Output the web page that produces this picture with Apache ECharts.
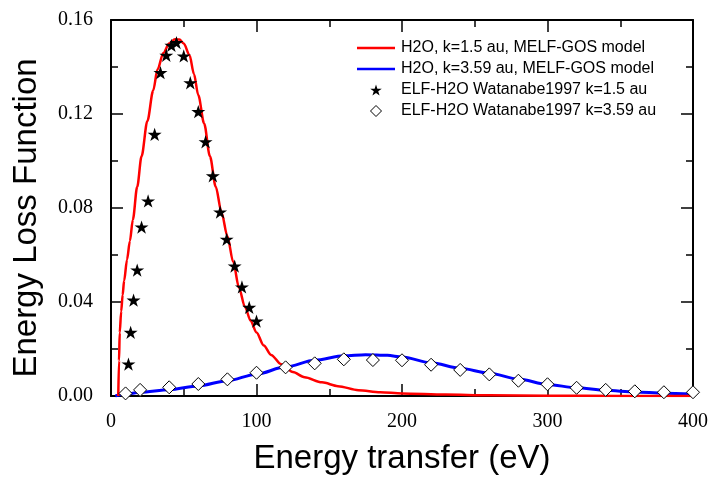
<!DOCTYPE html>
<html>
<head>
<meta charset="utf-8">
<script src="https://cdn.jsdelivr.net/npm/echarts@6/dist/echarts.min.js"></script>
<style>html,body{margin:0;padding:0;background:#fff}#c{width:713px;height:489px}</style>
</head>
<body>
<div id="c"></div>
<script>
// Model curve k=1.5 au (MELF-GOS)
var redE   = [5, 5.5, 6, 7, 8, 9, 11, 13, 15, 18, 21, 25, 29, 32, 36, 40, 44, 47, 50, 54, 57, 60, 64, 68, 72, 76, 80, 84, 88, 92, 96, 100, 105, 110, 117, 125, 133, 145, 156, 170, 185, 200, 230, 260, 300, 350, 400];
var redELF = [0, 0.015, 0.027, 0.036, 0.043, 0.049, 0.058, 0.066, 0.075, 0.089, 0.102, 0.117, 0.130, 0.139, 0.146, 0.150, 0.1518, 0.1517, 0.150, 0.145, 0.137, 0.128, 0.116, 0.102, 0.089, 0.078, 0.068, 0.057, 0.046, 0.038, 0.032, 0.027, 0.0215, 0.0175, 0.0135, 0.0102, 0.008, 0.0058, 0.0042, 0.0025, 0.0016, 0.0011, 0.0006, 0.0003, 0.0001, 0.00005, 0];
// Model curve k=3.59 au (MELF-GOS)
var blueE   = [3, 10, 20, 40, 60, 80, 100, 120, 140, 160, 175, 190, 200, 220, 240, 260, 280, 300, 320, 340, 360, 380, 400];
var blueELF = [0, 0.0008, 0.0016, 0.0027, 0.0043, 0.0065, 0.0093, 0.0124, 0.0152, 0.0171, 0.0176, 0.0173, 0.0166, 0.0141, 0.0118, 0.0097, 0.0072, 0.0049, 0.0035, 0.0024, 0.0017, 0.0012, 0.0008];
// Watanabe 1997 k=1.5 au
var starE   = [12, 13.5, 15.5, 18, 21, 25.5, 30, 34, 38, 41.5, 45, 50, 54.5, 60, 65, 70, 75, 79.5, 85, 90, 95, 100];
var starELF = [0.0136, 0.0271, 0.0408, 0.0536, 0.0719, 0.083, 0.1113, 0.1376, 0.145, 0.1492, 0.1504, 0.1447, 0.1333, 0.121, 0.1082, 0.0937, 0.0783, 0.0667, 0.0553, 0.0464, 0.0377, 0.0319];
// Watanabe 1997 k=3.59 au
var diaE   = [10, 20, 40, 60, 80, 100, 120, 140, 160, 180, 200, 220, 240, 260, 280, 300, 320, 340, 360, 380, 400];
var diaELF = [0.0011, 0.0026, 0.0037, 0.0051, 0.0071, 0.0099, 0.0122, 0.0139, 0.0156, 0.0153, 0.0152, 0.0133, 0.0111, 0.0092, 0.0065, 0.005, 0.0035, 0.0026, 0.002, 0.0016, 0.0016];

var seriesNames = ['H2O, k=1.5 au, MELF-GOS model', 'H2O, k=3.59 au, MELF-GOS model', 'ELF-H2O Watanabe1997 k=1.5 au', 'ELF-H2O Watanabe1997 k=3.59 au'];
var xTitle = 'Energy transfer (eV)';
var yTitle = 'Energy Loss Function';

function zip(a, b) { return a.map(function (v, i) { return [v, b[i]]; }); }

var STAR = 'path://M100,0 L122.45,69.1 L195.1,69.1 L136.33,111.8 L158.8,180.9 L100,138.2 L41.2,180.9 L63.67,111.8 L4.9,69.1 L77.55,69.1 Z';
var DIAMOND = 'path://M50,0 L100,50 L50,100 L0,50 Z';
var LINEICON = 'path://M0,0 L38,0 L38,2.5 L0,2.5 Z';

var serif = 'Liberation Serif';
var sans = 'Liberation Sans';

function axisCommon() {
  return {
    axisLine: { show: true, onZero: false, lineStyle: { color: '#000', width: 2 } },
    axisTick: { show: true, inside: true, length: 12, lineStyle: { color: '#000', width: 1.5 } },
    minorTick: { show: true, splitNumber: 2, length: 7, lineStyle: { color: '#000', width: 1.5 } },
    splitLine: { show: false },
    minorSplitLine: { show: false },
    axisLabel: { show: false }
  };
}

var chart = echarts.init(document.getElementById('c'), null, { renderer: 'canvas' });
var xBottom = Object.assign(axisCommon(), {
  type: 'value', position: 'bottom', min: 0, max: 400, interval: 100,
  name: xTitle, nameLocation: 'middle', nameGap: 46,
  nameTextStyle: { fontFamily: sans, fontSize: 33, color: '#000' }
});
xBottom.axisLabel = { show: true, margin: 16, fontFamily: serif, fontSize: 20, color: '#000' };
var xTop = Object.assign(axisCommon(), { type: 'value', position: 'top', min: 0, max: 400, interval: 100 });
var yLeft = Object.assign(axisCommon(), {
  type: 'value', position: 'left', min: 0, max: 0.16, interval: 0.04,
  name: yTitle, nameLocation: 'middle', nameGap: 68, nameRotate: 90,
  nameTextStyle: { fontFamily: sans, fontSize: 33, color: '#000', padding: [0, 20, 0, 0] }
});
yLeft.axisLabel = { show: true, margin: 18, fontFamily: serif, fontSize: 20, color: '#000', formatter: function (v) { return v.toFixed(2); } };
var yRight = Object.assign(axisCommon(), { type: 'value', position: 'right', min: 0, max: 0.16, interval: 0.04 });

chart.setOption({
  animation: false,
  backgroundColor: '#fff',
  grid: { left: 111, right: 20, top: 20, bottom: 93, containLabel: false },
  xAxis: [xBottom, xTop],
  yAxis: [yLeft, yRight],
  legend: {
    orient: 'vertical', left: 357, top: 40, padding: 0,
    itemWidth: 38, itemHeight: 11, itemGap: 5,
    textStyle: { fontFamily: sans, fontSize: 16, color: '#000', padding: [0, 0, 0, 1] },
    data: [
      { name: seriesNames[0], icon: LINEICON, itemStyle: { color: '#ff0000' } },
      { name: seriesNames[1], icon: LINEICON, itemStyle: { color: '#0000ff' } },
      { name: seriesNames[2], icon: STAR, itemStyle: { color: '#000' } },
      { name: seriesNames[3], icon: DIAMOND, itemStyle: { color: '#fff', borderColor: '#000', borderWidth: 1 } }
    ]
  },
  series: [
    { name: seriesNames[0], type: 'line', data: zip(redE, redELF), xAxisIndex: 0, yAxisIndex: 0,
      showSymbol: false, symbol: 'none', smooth: 0.3, smoothMonotone: 'x',
      lineStyle: { color: '#ff0000', width: 2.5 }, itemStyle: { color: '#ff0000' }, z: 2 },
    { name: seriesNames[1], type: 'line', data: zip(blueE, blueELF), xAxisIndex: 0, yAxisIndex: 0,
      showSymbol: false, symbol: 'none', smooth: 0.3, smoothMonotone: 'x',
      lineStyle: { color: '#0000ff', width: 3 }, itemStyle: { color: '#0000ff' }, z: 1 },
    { name: seriesNames[2], type: 'scatter', data: zip(starE, starELF), xAxisIndex: 0, yAxisIndex: 0,
      symbol: STAR, symbolSize: 14, symbolKeepAspect: true,
      itemStyle: { color: '#000', opacity: 1 }, z: 3 },
    { name: seriesNames[3], type: 'scatter', data: zip(diaE, diaELF), xAxisIndex: 0, yAxisIndex: 0,
      symbol: 'diamond', symbolSize: 13,
      itemStyle: { color: '#fff', borderColor: '#000', borderWidth: 1, opacity: 1 }, z: 3 }
  ]
});
</script>
</body>
</html>
